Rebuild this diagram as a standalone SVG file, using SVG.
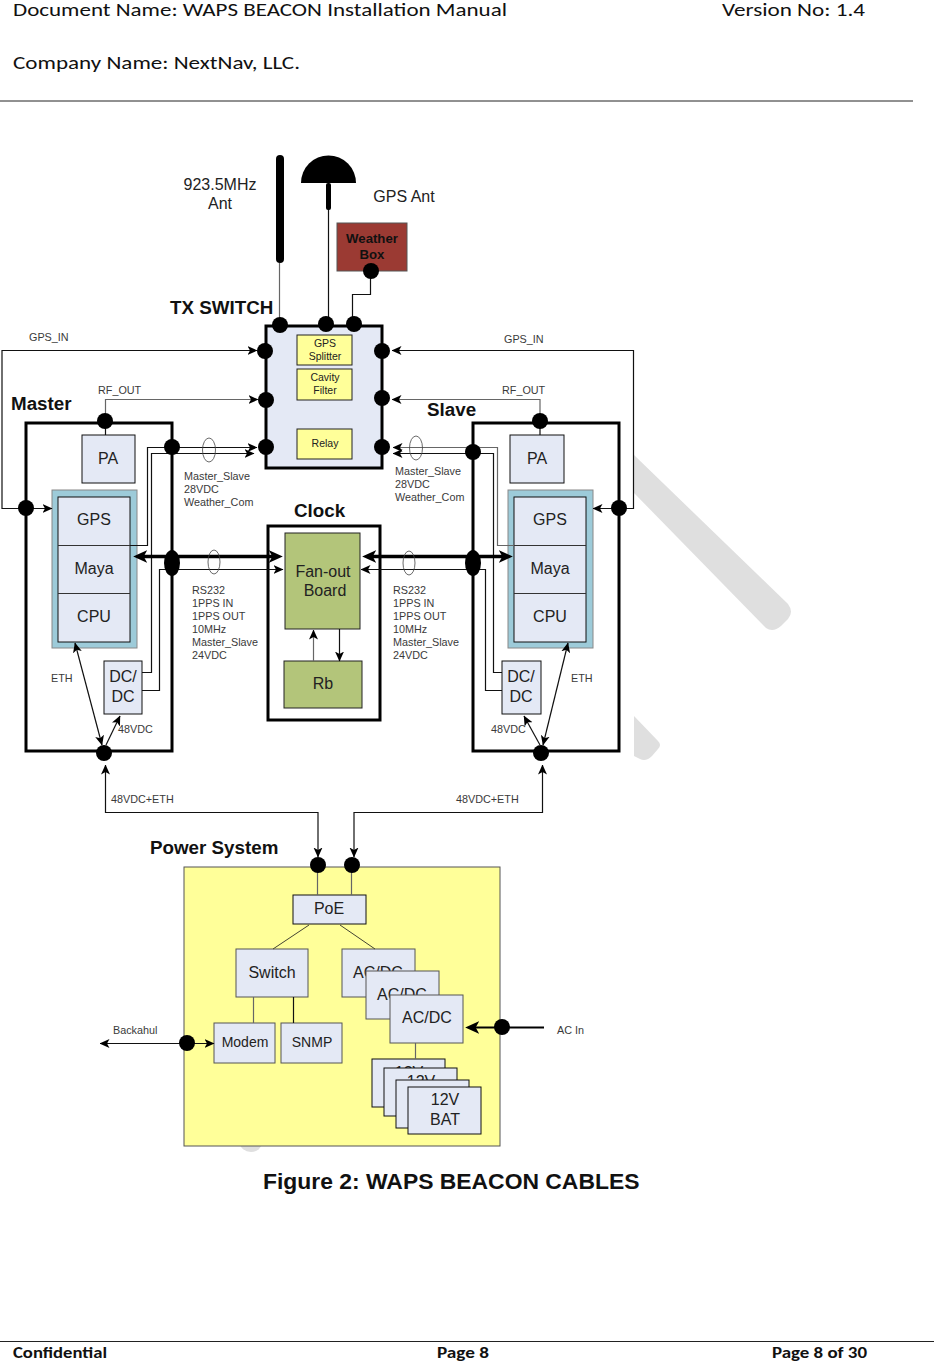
<svg xmlns="http://www.w3.org/2000/svg" width="934" height="1362" viewBox="0 0 934 1362">
<defs>
<marker id="a" viewBox="0 0 10 10" refX="9.500" refY="5" markerWidth="10" markerHeight="10" markerUnits="userSpaceOnUse" orient="auto-start-reverse"><path d="M0 0.500L10 5L0 9.500L2.500 5Z" fill="#000"/></marker>
<marker id="b" viewBox="0 0 10 10" refX="3" refY="5" markerWidth="14" markerHeight="14" markerUnits="userSpaceOnUse" orient="auto-start-reverse"><path d="M0 0.500L10 5L0 9.500L2.500 5Z" fill="#000"/></marker>
</defs>
<style>
text{font-family:"Liberation Sans",Arial,sans-serif;fill:#222}
.h{font-family:Carlito,"Open Sans","Noto Sans",sans-serif;font-size:18.600px;fill:#111}
.f{font-family:Carlito,"Open Sans","Noto Sans",sans-serif;font-size:16px;font-weight:700;fill:#111}
.m{text-anchor:middle}
.s{font-size:10.800px;fill:#3a3a3a}
.l{font-size:16px;text-anchor:middle}
.t{font-weight:bold;font-size:18.800px;fill:#111}
.box{fill:#e4e9f5;stroke:#111;stroke-width:1}
.bg{fill:#e4e9f5;stroke:#555;stroke-width:1}
.y{fill:#ffff99;stroke:#222;stroke-width:1}
.g{fill:#b3c57a;stroke:#222;stroke-width:1}
.fr{fill:none;stroke:#000;stroke-width:3}
.c{fill:none;stroke:#111;stroke-width:1.200}
.c2{fill:none;stroke:#666;stroke-width:1.200}
.n{fill:none;stroke:#444;stroke-width:.8}
</style>
<g id="watermark" fill="#dfdfdf">
<path d="M634 455L788 604Q794 612 788 619L781 626Q773 633 766 628L634 493Z"/>
<path d="M634 716L658 741Q662 745 658 749L652 756Q646 762 640 759L634 756Z"/>
<ellipse cx="251" cy="1143" rx="11" ry="9"/>
</g>
<g id="page-header">
<text class="h" x="13" y="16" textLength="494" lengthAdjust="spacingAndGlyphs">Document Name: WAPS BEACON Installation Manual</text>
<text class="h" x="722" y="16" textLength="143" lengthAdjust="spacingAndGlyphs">Version No: 1.4</text>
<text class="h" x="13" y="69" textLength="287" lengthAdjust="spacingAndGlyphs">Company Name: NextNav, LLC.</text>
<path d="M0 101H913" stroke="#222" stroke-width="1"/>
</g>
<g id="antennas">
<rect x="276" y="155" width="8" height="108" rx="4" fill="#000"/>
<path d="M301 183A27.500 27.500 0 0 1 356 183Z" fill="#000"/>
<rect x="326" y="183" width="5" height="27" rx="2" fill="#000"/>
<text class="l" x="220" y="190">923.5MHz</text><text class="l" x="220" y="209">Ant</text>
<text class="l" x="404" y="202">GPS Ant</text>
</g>
<g id="weather-box"><rect x="337" y="223" width="70" height="48" fill="#9b3a33" stroke="#555"/>
<text class="m" x="372" y="243" font-size="13.200" font-weight="bold" style="fill:#111">Weather</text><text class="m" x="372" y="259" font-size="13.200" font-weight="bold" style="fill:#111">Box</text></g>
<g id="tx-switch">
<rect x="266" y="326" width="116" height="142" fill="#e4e9f5" stroke="#000" stroke-width="3"/>
<text class="t" x="170" y="314">TX SWITCH</text>
<rect class="y" x="297" y="335" width="55" height="30"/><text class="m" x="325" y="347" font-size="10.500">GPS</text><text class="m" x="325" y="360" font-size="10.500">Splitter</text>
<rect class="y" x="297" y="369" width="55" height="31"/><text class="m" x="325" y="381" font-size="10.500">Cavity</text><text class="m" x="325" y="394" font-size="10.500">Filter</text>
<rect class="y" x="297" y="429" width="55" height="30"/><text class="m" x="325" y="447" font-size="10.500">Relay</text>
</g>
<g id="master">
<rect class="fr" x="26" y="423" width="146" height="328"/>
<text class="t" x="11" y="410">Master</text>
<rect class="box" x="82" y="435" width="53" height="48"/><text class="l" x="108" y="464">PA</text>
<rect x="52" y="490" width="85" height="158" fill="#9dcbd9" stroke="#888"/>
<rect class="box" x="58" y="497" width="72" height="145"/>
<path d="M58 545.500H130M58 593.500H130" stroke="#333"/>
<text class="l" x="94" y="525">GPS</text><text class="l" x="94" y="574">Maya</text><text class="l" x="94" y="622">CPU</text>
<rect class="box" x="104" y="661" width="38" height="53"/><text class="l" x="123" y="682">DC/</text><text class="l" x="123" y="702">DC</text>
</g>
<g id="clock">
<rect class="fr" x="268" y="526" width="112" height="194"/>
<text class="t" x="294" y="517">Clock</text>
<rect class="g" x="285" y="533" width="75" height="96"/><text class="l" x="323" y="577">Fan-out</text><text class="l" x="325" y="596">Board</text>
<rect class="g" x="284" y="661" width="78" height="47"/><text class="l" x="323" y="689">Rb</text>
</g>
<g id="slave">
<rect class="fr" x="473" y="423" width="146" height="328"/>
<text class="t" x="427" y="416">Slave</text>
<rect class="box" x="510" y="435" width="54" height="48"/><text class="l" x="537" y="464">PA</text>
<rect x="508" y="490" width="85" height="158" fill="#9dcbd9" stroke="#888"/>
<rect class="box" x="514" y="497" width="72" height="145"/>
<path d="M514 545.500H586M514 593.500H586" stroke="#333"/>
<text class="l" x="550" y="525">GPS</text><text class="l" x="550" y="574">Maya</text><text class="l" x="550" y="622">CPU</text>
<rect class="box" x="502" y="661" width="39" height="53"/><text class="l" x="521" y="682">DC/</text><text class="l" x="521" y="702">DC</text>
</g>
<g id="power-system">
<rect x="184" y="867" width="316" height="279" fill="#ffff99" stroke="#555"/>
<text class="t" x="150" y="854">Power System</text>
<rect class="box" x="293" y="895" width="73" height="29"/><text class="l" x="329" y="914">PoE</text>
<rect class="bg" x="236" y="949" width="72" height="48"/><text class="l" x="272" y="978">Switch</text>
<rect class="bg" x="342" y="949" width="73" height="48"/><text class="l" x="378" y="978">AC/DC</text>
<rect class="bg" x="366" y="971" width="73" height="48"/><text class="l" x="402" y="1000">AC/DC</text>
<rect class="bg" x="390" y="995" width="73" height="48"/><text class="l" x="427" y="1023">AC/DC</text>
<rect class="bg" x="214" y="1023" width="61" height="40"/><text class="m" x="245" y="1047" font-size="14">Modem</text>
<rect class="bg" x="281" y="1023" width="61" height="40"/><text class="m" x="312" y="1047" font-size="14">SNMP</text>
<rect class="box" x="372" y="1059" width="73" height="48"/><text class="l" x="409" y="1078">12V</text>
<rect class="box" x="384" y="1068" width="73" height="48"/><text class="l" x="421" y="1087">12V</text>
<rect class="box" x="396" y="1080" width="73" height="48"/><text class="l" x="433" y="1099">12V</text>
<rect class="box" x="408" y="1087" width="73" height="47"/><text class="l" x="445" y="1105">12V</text><text class="l" x="445" y="1125">BAT</text>
</g>
<g id="connectors">
<path class="c2" d="M279.500 263V325"/><path class="c" d="M328.500 210V325"/>
<path class="c" d="M370.500 271V294.500H352.500V325"/>
<path class="c" d="M257 350.500H2V508.500H52" marker-start="url(#a)" marker-end="url(#a)"/>
<path class="c2" d="M105.500 423V399.500H258" marker-end="url(#a)"/>
<path class="c" d="M392 350.500H633.500V508.500H593" marker-start="url(#a)" marker-end="url(#a)"/>
<path class="c2" d="M540 423V399.500H392" marker-end="url(#a)"/>
<path class="c" d="M105.500 423V435M540 423V435"/>
<path class="c" d="M130 545.500H147.500V447.500H257" marker-end="url(#a)"/>
<path class="c" d="M142 672.500H151.500V453.500H254" marker-end="url(#a)"/>
<path class="c" d="M142 690.500H159.500V569.500H283" marker-end="url(#a)"/>
<path class="c2" d="M393 447.500H497.500V545.500H514" marker-start="url(#a)"/>
<path class="c" d="M393 453.500H493.500V672.500H502" marker-start="url(#a)"/>
<path class="c" d="M361 569.500H485.500V690.500H502" marker-start="url(#a)"/>
<path d="M143 556.500H273" stroke="#000" stroke-width="3.500" marker-start="url(#b)" marker-end="url(#b)"/>
<path d="M372 556.500H503" stroke="#000" stroke-width="3.500" marker-start="url(#b)" marker-end="url(#b)"/>
<path class="c" d="M339.500 629V661" marker-end="url(#a)"/><path class="c2" d="M313.500 661V630" marker-end="url(#a)"/>
<path class="c" d="M75 643L102 745" marker-start="url(#a)" marker-end="url(#a)"/>
<path class="c" d="M106 745L120 716" marker-end="url(#a)"/>
<path class="c" d="M568 643L543 745" marker-start="url(#a)" marker-end="url(#a)"/>
<path class="c" d="M540 745L524 716" marker-end="url(#a)"/>
<path class="c" d="M318 857V812.500H105.500V765" marker-start="url(#a)" marker-end="url(#a)"/>
<path class="c" d="M354 857V812.500H542.500V765" marker-start="url(#a)" marker-end="url(#a)"/>
<path class="c2" d="M317.500 865V895M351.500 865V895"/>
<path d="M309 925L273 949M340 925L375 949" stroke="#443" fill="none"/>
<path class="c2" d="M253.500 997V1023"/><path class="c" d="M293.500 997V1023"/><path class="c2" d="M415.500 1043V1059"/>
<path class="c" d="M100 1043.500H214" marker-start="url(#a)" marker-end="url(#a)"/>
<path d="M544 1027.500H475" stroke="#000" stroke-width="1.800" marker-end="url(#b)"/>
<ellipse class="n" cx="209" cy="450" rx="6.500" ry="12"/><ellipse class="n" cx="214" cy="562" rx="6" ry="12"/>
<ellipse class="n" cx="416" cy="448" rx="6.500" ry="12"/><ellipse class="n" cx="409" cy="563" rx="6" ry="12"/>
</g>
<g id="junctions" fill="#000">
<circle cx="280" cy="325" r="8"/><circle cx="326" cy="324" r="8"/><circle cx="354" cy="324" r="8"/><circle cx="371" cy="271" r="8"/>
<circle cx="265" cy="351" r="8"/><circle cx="266" cy="400" r="8"/><circle cx="266" cy="447" r="8"/>
<circle cx="382" cy="351" r="8"/><circle cx="382" cy="398" r="8"/><circle cx="382" cy="447" r="8"/>
<circle cx="105" cy="421" r="8"/><circle cx="172" cy="447" r="8"/><circle cx="26" cy="508" r="8"/>
<ellipse cx="172" cy="563" rx="8" ry="13"/><circle cx="104" cy="753" r="8"/>
<circle cx="540" cy="421" r="8"/><circle cx="473" cy="452" r="8"/><circle cx="619" cy="508" r="8"/>
<ellipse cx="473" cy="563" rx="8" ry="13"/><circle cx="541" cy="753" r="8"/>
<circle cx="318" cy="865" r="8"/><circle cx="352" cy="865" r="8"/><circle cx="187" cy="1043" r="8"/><circle cx="502" cy="1027" r="8"/>
</g>
<g id="labels">
<text class="s" x="29" y="341">GPS_IN</text><text class="s" x="98" y="394">RF_OUT</text>
<text class="s" x="504" y="343">GPS_IN</text><text class="s" x="502" y="394">RF_OUT</text>
<text class="s" x="184" y="480">Master_Slave</text><text class="s" x="184" y="493">28VDC</text><text class="s" x="184" y="506">Weather_Com</text>
<text class="s" x="395" y="475">Master_Slave</text><text class="s" x="395" y="488">28VDC</text><text class="s" x="395" y="501">Weather_Com</text>
<text class="s" x="192" y="594">RS232</text><text class="s" x="192" y="607">1PPS IN</text><text class="s" x="192" y="620">1PPS OUT</text><text class="s" x="192" y="633">10MHz</text><text class="s" x="192" y="646">Master_Slave</text><text class="s" x="192" y="659">24VDC</text>
<text class="s" x="393" y="594">RS232</text><text class="s" x="393" y="607">1PPS IN</text><text class="s" x="393" y="620">1PPS OUT</text><text class="s" x="393" y="633">10MHz</text><text class="s" x="393" y="646">Master_Slave</text><text class="s" x="393" y="659">24VDC</text>
<text class="s" x="51" y="682">ETH</text><text class="s" x="571" y="682">ETH</text>
<text class="s" x="118" y="733">48VDC</text><text class="s" x="491" y="733">48VDC</text>
<text class="s" x="111" y="803">48VDC+ETH</text><text class="s" x="456" y="803">48VDC+ETH</text>
<text class="s" x="113" y="1034">Backahul</text><text class="s" x="557" y="1034">AC In</text>
</g>
<g id="caption-footer">
<text x="263" y="1189" font-size="22.900" font-weight="bold" style="fill:#111">Figure 2: WAPS BEACON CABLES</text>
<path d="M0 1341.500H934" stroke="#222"/>
<text class="f" x="13" y="1358" textLength="94" lengthAdjust="spacingAndGlyphs">Confidential</text><text class="f" x="437" y="1358" textLength="52" lengthAdjust="spacingAndGlyphs">Page 8</text><text class="f" x="772" y="1358" textLength="95" lengthAdjust="spacingAndGlyphs">Page 8 of 30</text>
</g>
</svg>
